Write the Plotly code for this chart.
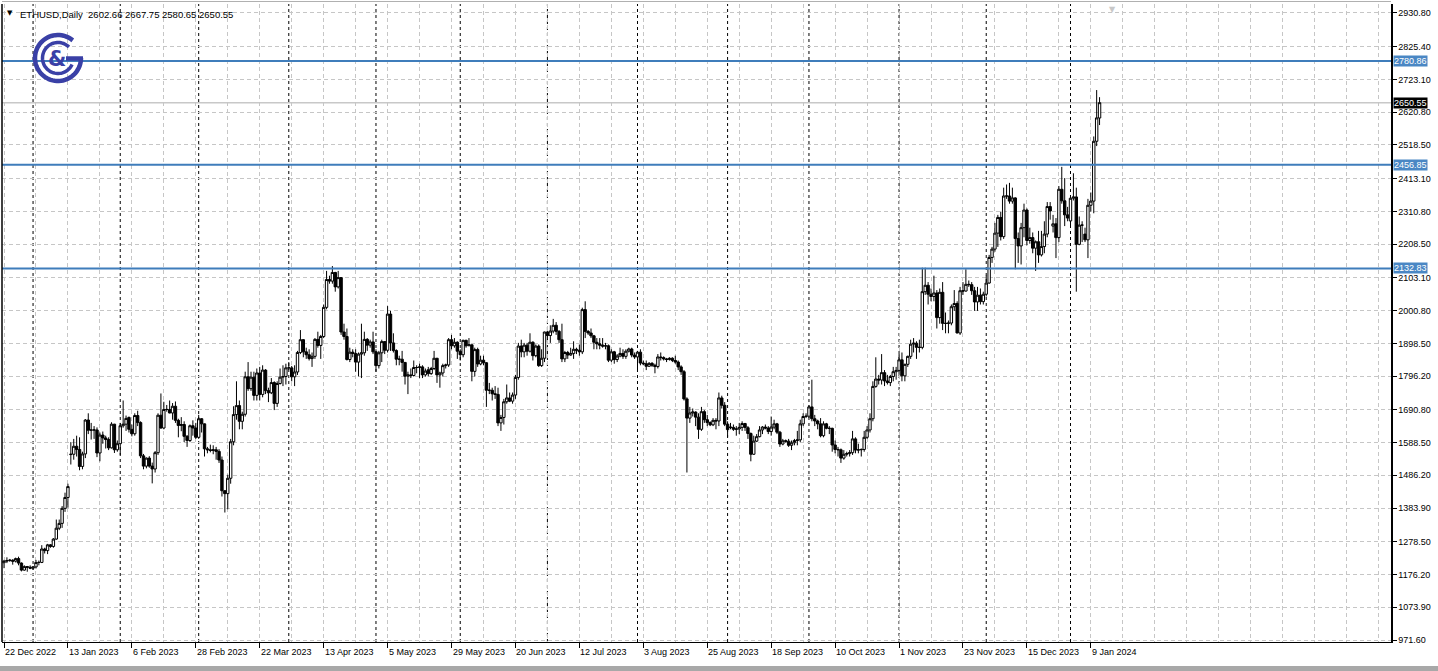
import math
import pandas as pd
import plotly.graph_objects as go

# ---------------- data ----------------
symbol = "ETHUSD"
timeframe = "Daily"
start_date = "2022-12-22"
end_date = "2024-01-12"
missing_days = ["2023-01-14", "2023-02-04", "2023-05-13", "2023-05-20", "2023-09-02",
                "2023-09-09", "2023-12-24", "2023-12-31", "2024-01-06"]

opens = [
    1213, 1218, 1220, 1221, 1218, 1226, 1212, 1190, 1201, 1199,
    1196, 1200, 1214, 1214, 1256, 1251, 1269, 1264, 1287, 1321, 1336, 1383, 1417,
    1551, 1552, 1577, 1567, 1514, 1553, 1659, 1627, 1628, 1628, 1556, 1612, 1603, 1598, 1572, 1646, 1566,
    1585, 1641, 1646, 1667, 1630, 1616, 1673, 1651, 1547, 1515, 1540, 1515, 1506, 1557, 1674, 1634, 1692,
    1692, 1681, 1702, 1658, 1642, 1645, 1608, 1595, 1641, 1634,
    1605, 1663, 1647, 1569, 1566, 1564, 1566, 1561, 1534, 1438, 1429, 1477, 1591, 1676, 1704, 1655, 1677,
    1794, 1757, 1793, 1736, 1806, 1739, 1815, 1751, 1744, 1776, 1711, 1773, 1793, 1795,
    1822, 1822, 1794, 1809, 1870, 1910, 1872, 1863, 1851, 1858, 1911, 1892, 1920, 2011, 2098, 2093, 2120,
    2075, 2104, 1934, 1920, 1848, 1871, 1867, 1840, 1865, 1869, 1911, 1893, 1903,
    1872, 1829, 1869, 1904, 1877, 1990, 1900, 1876, 1849, 1849, 1839, 1796, 1800, 1798, 1823, 1823, 1825,
    1800, 1816, 1804, 1820, 1852, 1800, 1806, 1829, 1831, 1910, 1891, 1902,
    1874, 1863, 1908, 1891, 1894, 1811, 1879, 1834, 1846, 1838, 1752, 1752, 1741, 1739, 1650, 1667, 1716,
    1728, 1718, 1737, 1792, 1890, 1872, 1893, 1874, 1902, 1860, 1890, 1829, 1852,
    1934, 1923, 1937, 1955, 1936, 1910, 1850, 1870, 1862, 1867, 1880, 1877, 1872, 2004, 1936, 1931, 1922,
    1902, 1897, 1893, 1890, 1891, 1846, 1872, 1848, 1859, 1867, 1858, 1874, 1881, 1862,
    1856, 1871, 1837, 1835, 1827, 1836, 1830, 1826, 1856, 1854, 1850, 1848, 1852, 1845, 1840, 1825, 1810,
    1725, 1665, 1681, 1684, 1668, 1630, 1685, 1660, 1651, 1644, 1658, 1656, 1728, 1705,
    1646, 1637, 1636, 1630, 1631, 1636, 1648, 1635, 1617, 1552, 1593, 1607, 1628, 1637, 1634, 1623, 1637,
    1647, 1621, 1584, 1594, 1593, 1580, 1588, 1595, 1597, 1647, 1670,
    1671, 1700, 1663, 1656, 1647, 1610, 1647, 1633, 1633, 1581, 1567, 1566, 1540, 1552, 1554, 1557, 1600,
    1565, 1566, 1567, 1605, 1628, 1663, 1764, 1787, 1784, 1807, 1781, 1776, 1795, 1810,
    1814, 1847, 1797, 1833, 1858, 1896, 1899, 1886, 1886, 2060, 2080, 2052, 2045, 2056, 1979, 2058, 1961,
    1961, 1962, 2013, 2023, 1931, 2063, 2062, 2083, 2082, 2063, 2028, 2049, 2029,
    2052, 2087, 2167, 2193, 2243, 2292, 2232, 2359, 2359, 2343, 2353, 2226, 2203, 2260, 2315, 2220, 2229,
    2196, 2216, 2175, 2201, 2240, 2326, 2265, 2272, 2229, 2380, 2344, 2300,
    2281, 2352, 2356, 2208, 2268, 2240, 2222, 2330, 2343, 2530, 2602.66,
]
highs = [
    1222, 1230, 1225, 1224, 1229, 1232, 1214, 1205, 1203, 1205,
    1203, 1222, 1220, 1268, 1260, 1272, 1271, 1290, 1348, 1348, 1390, 1432, 1460,
    1590, 1600, 1610, 1605, 1560, 1662, 1680, 1650, 1640, 1636, 1620, 1623, 1610, 1605, 1652, 1647, 1595,
    1650, 1720, 1673, 1670, 1645, 1680, 1688, 1655, 1553, 1542, 1546, 1526, 1562, 1680, 1742, 1716, 1706,
    1720, 1712, 1717, 1663, 1668, 1655, 1612, 1645, 1658, 1650,
    1675, 1665, 1648, 1575, 1582, 1580, 1575, 1568, 1545, 1440, 1488, 1600, 1702, 1780, 1720, 1685, 1810,
    1840, 1810, 1810, 1820, 1825, 1830, 1818, 1760, 1790, 1780, 1780, 1820, 1830, 1835,
    1840, 1828, 1830, 1875, 1940, 1912, 1885, 1880, 1870, 1915, 1935, 1925, 2020, 2125, 2110, 2140, 2122,
    2125, 2105, 1960, 1945, 1885, 1880, 1880, 1870, 1960, 1935, 1915, 1910, 1935,
    1880, 1875, 1910, 1905, 2015, 2000, 1930, 1880, 1860, 1875, 1840, 1810, 1820, 1845, 1830, 1835, 1830,
    1820, 1825, 1825, 1875, 1853, 1810, 1835, 1835, 1915, 1925, 1915, 1905,
    1880, 1910, 1910, 1915, 1895, 1885, 1885, 1860, 1860, 1840, 1775, 1760, 1765, 1760, 1675, 1725, 1770,
    1745, 1745, 1800, 1900, 1910, 1900, 1900, 1930, 1905, 1895, 1895, 1880, 1935,
    1938, 1955, 1975, 1965, 1940, 1960, 1875, 1875, 1885, 1905, 1885, 1895, 2010, 2030, 1940, 1945, 1925,
    1915, 1915, 1915, 1900, 1895, 1880, 1875, 1865, 1885, 1880, 1880, 1885, 1885, 1870,
    1875, 1880, 1845, 1845, 1840, 1840, 1835, 1865, 1870, 1858, 1853, 1855, 1855, 1860, 1845, 1830, 1815,
    1730, 1700, 1695, 1686, 1680, 1700, 1690, 1675, 1655, 1665, 1665, 1745, 1735, 1715,
    1655, 1650, 1645, 1640, 1650, 1655, 1650, 1640, 1620, 1610, 1615, 1640, 1640, 1645, 1640, 1670, 1660,
    1650, 1625, 1600, 1598, 1600, 1595, 1600, 1625, 1660, 1680, 1680,
    1705, 1785, 1675, 1660, 1665, 1655, 1650, 1640, 1635, 1595, 1575, 1570, 1565, 1560, 1565, 1625, 1605,
    1585, 1570, 1625, 1640, 1680, 1780, 1855, 1800, 1865, 1815, 1800, 1800, 1825, 1825,
    1865, 1870, 1835, 1860, 1910, 1915, 1905, 1910, 2135, 2135, 2090, 2070, 2110, 2065, 2070, 2090, 1995,
    1970, 2020, 2065, 2030, 2075, 2090, 2130, 2095, 2090, 2075, 2075, 2070, 2060,
    2110, 2175, 2200, 2275, 2300, 2310, 2385, 2395, 2400, 2385, 2355, 2245, 2275, 2335, 2320, 2260, 2245,
    2220, 2250, 2250, 2280, 2340, 2340, 2300, 2290, 2390, 2450, 2415, 2325,
    2355, 2430, 2385, 2295, 2280, 2260, 2350, 2370, 2545, 2690, 2667.75,
]
lows = [
    1196, 1212, 1216, 1207, 1214, 1205, 1186, 1188, 1185, 1193,
    1191, 1195, 1205, 1212, 1242, 1240, 1260, 1260, 1285, 1315, 1322, 1372, 1385,
    1520, 1535, 1545, 1502, 1505, 1540, 1615, 1598, 1600, 1543, 1530, 1585, 1570, 1565, 1570, 1556, 1560,
    1550, 1635, 1625, 1620, 1608, 1610, 1640, 1540, 1505, 1508, 1510, 1461, 1495, 1550, 1632, 1630, 1685,
    1680, 1660, 1650, 1605, 1624, 1590, 1575, 1590, 1610, 1600,
    1600, 1620, 1545, 1555, 1558, 1552, 1535, 1525, 1420, 1370, 1380, 1460, 1580, 1660, 1630, 1630, 1670,
    1750, 1750, 1720, 1720, 1720, 1730, 1740, 1715, 1740, 1690, 1700, 1770, 1765, 1770,
    1815, 1780, 1765, 1800, 1865, 1855, 1850, 1845, 1825, 1850, 1885, 1850, 1915, 2005, 2085, 2085, 2060,
    2070, 1925, 1910, 1845, 1840, 1855, 1810, 1795, 1790, 1860, 1875, 1885, 1865,
    1810, 1820, 1840, 1865, 1870, 1875, 1870, 1830, 1830, 1810, 1770, 1740, 1790, 1795, 1805, 1790, 1790,
    1795, 1795, 1800, 1815, 1775, 1760, 1795, 1820, 1825, 1880, 1885, 1850,
    1845, 1855, 1885, 1890, 1780, 1795, 1825, 1830, 1830, 1700, 1740, 1720, 1725, 1640, 1625, 1645, 1710,
    1715, 1710, 1725, 1785, 1855, 1855, 1860, 1870, 1845, 1855, 1825, 1825, 1840,
    1910, 1900, 1930, 1925, 1900, 1840, 1840, 1850, 1860, 1850, 1865, 1860, 1865, 1915, 1925, 1915, 1880,
    1880, 1880, 1885, 1880, 1840, 1840, 1835, 1840, 1855, 1850, 1850, 1870, 1855, 1850,
    1815, 1830, 1830, 1815, 1825, 1825, 1805, 1820, 1845, 1845, 1840, 1845, 1840, 1835, 1815, 1800, 1720,
    1495, 1650, 1670, 1640, 1600, 1625, 1650, 1640, 1640, 1640, 1630, 1640, 1695, 1640,
    1605, 1630, 1625, 1610, 1615, 1625, 1625, 1600, 1530, 1550, 1590, 1605, 1615, 1630, 1615, 1610, 1630,
    1615, 1575, 1580, 1588, 1575, 1565, 1580, 1580, 1590, 1640, 1665,
    1665, 1655, 1640, 1630, 1605, 1605, 1630, 1615, 1560, 1555, 1545, 1525, 1535, 1545, 1545, 1550, 1555,
    1555, 1545, 1560, 1600, 1620, 1655, 1760, 1770, 1770, 1765, 1770, 1765, 1780, 1785,
    1800, 1780, 1780, 1825, 1850, 1870, 1850, 1870, 1880, 2050, 2020, 2030, 2030, 1945, 1960, 1940, 1930,
    1930, 1955, 2000, 1930, 1925, 2050, 2060, 2075, 2050, 2000, 2000, 2020, 2020,
    2045, 2085, 2150, 2185, 2200, 2220, 2225, 2350, 2335, 2335, 2130, 2150, 2145, 2230, 2205, 2210, 2180,
    2125, 2150, 2170, 2180, 2230, 2285, 2245, 2165, 2215, 2335, 2265, 2280,
    2265, 2345, 2060, 2205, 2215, 2215, 2165, 2310, 2305, 2515, 2580.65,
]
closes = [
    1218, 1220, 1221, 1218, 1226, 1212, 1190, 1201, 1199, 1196,
    1200, 1214, 1214, 1256, 1251, 1269, 1264, 1287, 1321, 1336, 1383, 1417, 1451,
    1552, 1577, 1567, 1514, 1553, 1659, 1627, 1628, 1628, 1556, 1612, 1603, 1598, 1572, 1646, 1566, 1585,
    1641, 1646, 1664, 1630, 1616, 1673, 1651, 1547, 1515, 1540, 1515, 1506, 1557, 1674, 1634, 1692, 1692,
    1681, 1702, 1658, 1642, 1645, 1608, 1595, 1641, 1634, 1605,
    1663, 1647, 1569, 1566, 1564, 1566, 1561, 1534, 1438, 1429, 1477, 1591, 1676, 1704, 1655, 1677, 1794,
    1757, 1793, 1736, 1806, 1739, 1815, 1751, 1744, 1776, 1711, 1773, 1793, 1795, 1822,
    1822, 1794, 1809, 1870, 1910, 1872, 1863, 1851, 1858, 1911, 1892, 1920, 2011, 2098, 2093, 2120, 2075,
    2104, 1934, 1920, 1848, 1871, 1867, 1840, 1865, 1869, 1911, 1893, 1903, 1872,
    1829, 1869, 1904, 1877, 1990, 1900, 1876, 1849, 1849, 1839, 1796, 1800, 1798, 1823, 1823, 1825, 1800,
    1812, 1804, 1820, 1852, 1800, 1806, 1829, 1831, 1910, 1891, 1902, 1874,
    1863, 1908, 1891, 1894, 1811, 1879, 1834, 1846, 1838, 1752, 1752, 1741, 1739, 1650, 1667, 1716, 1728,
    1718, 1737, 1792, 1890, 1872, 1893, 1874, 1902, 1860, 1890, 1829, 1852, 1934,
    1923, 1937, 1955, 1936, 1910, 1850, 1870, 1862, 1867, 1880, 1877, 1872, 2004, 1936, 1931, 1922, 1902,
    1897, 1893, 1890, 1891, 1846, 1872, 1848, 1859, 1867, 1858, 1874, 1881, 1862, 1856,
    1871, 1837, 1835, 1827, 1836, 1830, 1826, 1856, 1854, 1850, 1848, 1852, 1845, 1840, 1825, 1810, 1725,
    1665, 1681, 1684, 1668, 1630, 1685, 1660, 1651, 1644, 1658, 1656, 1728, 1705, 1646,
    1629, 1636, 1630, 1631, 1636, 1648, 1636, 1617, 1552, 1593, 1607, 1628, 1637, 1634, 1623, 1637, 1647,
    1621, 1584, 1594, 1593, 1580, 1588, 1595, 1597, 1647, 1670, 1671,
    1700, 1663, 1656, 1647, 1610, 1647, 1633, 1633, 1581, 1567, 1566, 1540, 1552, 1554, 1557, 1600, 1565,
    1566, 1567, 1605, 1628, 1663, 1764, 1787, 1784, 1807, 1781, 1776, 1795, 1810, 1814,
    1847, 1797, 1833, 1858, 1896, 1899, 1886, 1886, 2060, 2080, 2052, 2045, 2056, 1979, 2058, 1961, 1961,
    1962, 2013, 2023, 1931, 2063, 2062, 2083, 2082, 2063, 2028, 2049, 2029, 2052,
    2087, 2167, 2193, 2243, 2292, 2232, 2359, 2359, 2343, 2353, 2226, 2203, 2260, 2315, 2220, 2229, 2196,
    2216, 2175, 2201, 2240, 2326, 2312, 2272, 2229, 2380, 2344, 2300, 2290,
    2352, 2356, 2208, 2268, 2268, 2222, 2330, 2343, 2530, 2603, 2650.55,
]

x_tick_labels = ["22 Dec 2022", "13 Jan 2023", "6 Feb 2023", "28 Feb 2023", "22 Mar 2023",
                 "13 Apr 2023", "5 May 2023", "29 May 2023", "20 Jun 2023", "12 Jul 2023",
                 "3 Aug 2023", "25 Aug 2023", "18 Sep 2023", "10 Oct 2023", "1 Nov 2023",
                 "23 Nov 2023", "15 Dec 2023", "9 Jan 2024"]
y_tick_values = [971.60, 1073.90, 1176.20, 1278.50, 1383.90, 1486.20, 1588.50, 1690.80,
                 1796.20, 1898.50, 2000.80, 2103.10, 2208.50, 2310.80, 2413.10, 2518.50,
                 2620.80, 2723.10, 2825.40, 2930.80]
levels = [2780.86, 2456.85, 2132.83]

# ---------------- calendar / positions ----------------
days = pd.date_range(start_date, end_date, freq="D")
days = [d for d in days if d.strftime("%Y-%m-%d") not in missing_days]
n = len(closes)
days = days[:n]
xs = list(range(n))
labels_of_day = [f"{d.day} {d.strftime('%b %Y')}" for d in days]
tick_pos = [labels_of_day.index(t) for t in x_tick_labels]
month_starts = [i for i in range(1, n) if days[i].month != days[i - 1].month]

# ---------------- geometry ----------------
W, H = 1438, 671
ML, MR, MTOP, MB = 2, 47, 4, 29
PW, PH = W - ML - MR, H - MTOP - MB
bar_px = 2.906
first_px = 4.0
x_lo = -(first_px - ML) / bar_px
x_hi = x_lo + PW / bar_px
y_lo, y_hi = 965.4, 2958.9

def paper(px, py):
    return (px - ML) / PW, (MTOP + PH - py) / PH

FONT = "Liberation Sans, Arial, sans-serif"
GRID = "#c6c6c6"
LEVEL = "#3f7dbb"
LEVEL_BOX = "#4a87c4"
LOGO = "#3a40a6"

fig = go.Figure()
fig.add_trace(go.Candlestick(
    x=xs, open=opens, high=highs, low=lows, close=closes,
    increasing=dict(line=dict(color="black", width=1), fillcolor="white"),
    decreasing=dict(line=dict(color="black", width=1), fillcolor="black"),
    whiskerwidth=0, hoverinfo="skip", showlegend=False,
))

shapes = []
# month separators
for i in month_starts:
    shapes.append(dict(type="line", xref="x", yref="paper", x0=i, x1=i, y0=0, y1=1,
                       line=dict(color="black", width=1, dash="3px,3px"), layer="below"))
# current price line
shapes.append(dict(type="line", xref="paper", yref="y", x0=0, x1=1, y0=closes[-1], y1=closes[-1],
                   line=dict(color="#c8c8c8", width=1.5), layer="below"))
# levels
for lv in levels:
    shapes.append(dict(type="line", xref="paper", yref="y", x0=0, x1=1, y0=lv, y1=lv,
                       line=dict(color=LEVEL, width=2), layer="above"))
# frame pieces
shapes.append(dict(type="line", xref="paper", yref="paper", x0=0, x1=0, y0=0, y1=1,
                   line=dict(color="black", width=1.5)))
shapes.append(dict(type="line", xref="paper", yref="paper", x0=0, x1=1, y0=1 + 2.5 / PH, y1=1 + 2.5 / PH,
                   line=dict(color="#b0b0b0", width=1)))
shapes.append(dict(type="rect", xref="paper", yref="paper", x0=-ML / PW, x1=1 + MR / PW,
                   y0=-(MB) / PH, y1=-(MB - 5) / PH, line=dict(width=0), fillcolor="#a8a8a8"))

# logo
cx, cy = 58, 58

def arc(r, a0, a1, steps=60):
    pts = []
    for k in range(steps + 1):
        a = math.radians(a0 + (a1 - a0) * k / steps)
        pts.append(paper(cx + r * math.cos(a), cy - r * math.sin(a)))
    return "M " + " L ".join(f"{p[0]:.5f},{p[1]:.5f}" for p in pts)

shapes.append(dict(type="path", xref="paper", yref="paper", path=arc(23, 50, 360),
                   line=dict(color=LOGO, width=4.5)))
shapes.append(dict(type="path", xref="paper", yref="paper", path=arc(15.5, 45, 335),
                   line=dict(color=LOGO, width=3.5)))
b0 = paper(cx + 8, cy + 0.5)
b1 = paper(cx + 25, cy + 0.5)
shapes.append(dict(type="line", xref="paper", yref="paper", x0=b0[0], y0=b0[1], x1=b1[0], y1=b1[1],
                   line=dict(color=LOGO, width=4.5)))

annotations = []
# logo ampersand
ax, ay = paper(cx - 1, cy + 1)
annotations.append(dict(xref="paper", yref="paper", x=ax, y=ay, text="<b>&</b>", showarrow=False,
                        font=dict(family="DejaVu Sans, sans-serif", size=21, color=LOGO),
                        xanchor="center", yanchor="middle"))
# header
header = (f"{symbol},{timeframe}  {opens[-1]:.2f} {highs[-1]:.2f} "
          f"{lows[-1]:.2f} {closes[-1]:.2f}")
hx, hy = paper(5, 7)
annotations.append(dict(xref="paper", yref="paper", x=hx, y=hy, text="▼", showarrow=False,
                        xanchor="left", yanchor="top", font=dict(family="DejaVu Sans", size=7, color="black")))
hx2, _ = paper(18, 7)
annotations.append(dict(xref="paper", yref="paper", x=hx2, y=hy, text=header, showarrow=False,
                        xanchor="left", yanchor="top", font=dict(family=FONT, size=9.5, color="black")))
# shift marker
sx, sy = paper(1112, 3)
annotations.append(dict(xref="paper", yref="paper", x=sx, y=sy, text="▼", showarrow=False,
                        xanchor="center", yanchor="top", font=dict(family="DejaVu Sans", size=8, color="#c8c8c8")))
# x labels
for pos, lab in zip(tick_pos, x_tick_labels):
    annotations.append(dict(xref="x", yref="paper", x=pos, y=0, text=lab, showarrow=False,
                            xanchor="left", yanchor="top", xshift=-1, yshift=-3,
                            font=dict(family=FONT, size=9, color="black")))
# price boxes
for lv in levels:
    annotations.append(dict(xref="paper", yref="y", x=1, y=lv, text=f"{lv:.2f}", showarrow=False,
                            xanchor="left", yanchor="middle", xshift=2, bgcolor=LEVEL_BOX, borderpad=0,
                            font=dict(family=FONT, size=9, color="white")))
annotations.append(dict(xref="paper", yref="y", x=1, y=closes[-1], text=f"{closes[-1]:.2f}", showarrow=False,
                        xanchor="left", yanchor="middle", xshift=2, bgcolor="black", borderpad=0,
                        font=dict(family=FONT, size=9, color="white")))

fig.update_layout(
    width=W, height=H, margin=dict(l=ML, r=MR, t=MTOP, b=MB, pad=0),
    paper_bgcolor="white", plot_bgcolor="white",
    boxgap=0.18, boxgroupgap=0,
    shapes=shapes, annotations=annotations, showlegend=False, hovermode=False,
    xaxis=dict(range=[x_lo, x_hi], rangeslider=dict(visible=False), tickmode="array",
               tickvals=tick_pos, ticktext=[""] * len(tick_pos), ticks="outside", ticklen=5,
               tickcolor="black", showline=True, linecolor="black", linewidth=1,
               showgrid=True, gridcolor=GRID, griddash="4px,3px", gridwidth=1, zeroline=False,
               minor=dict(tick0=0, dtick=11, showgrid=True, gridcolor=GRID, griddash="4px,3px",
                          gridwidth=1, ticks="")),
    yaxis=dict(range=[y_lo, y_hi], side="right", tickmode="array", tickvals=y_tick_values,
               ticktext=[f"{v:.2f}" for v in y_tick_values], ticks="outside", ticklen=4,
               tickcolor="black", showline=True, linecolor="black", linewidth=1.5,
               showgrid=True, gridcolor=GRID, griddash="4px,3px", gridwidth=1, zeroline=False,
               tickfont=dict(family=FONT, size=9, color="black")),
)

fig.write_html("out.html", config=dict(displayModeBar=False, staticPlot=True),
               post_script="document.body.style.margin='0';document.body.style.overflow='hidden';")
